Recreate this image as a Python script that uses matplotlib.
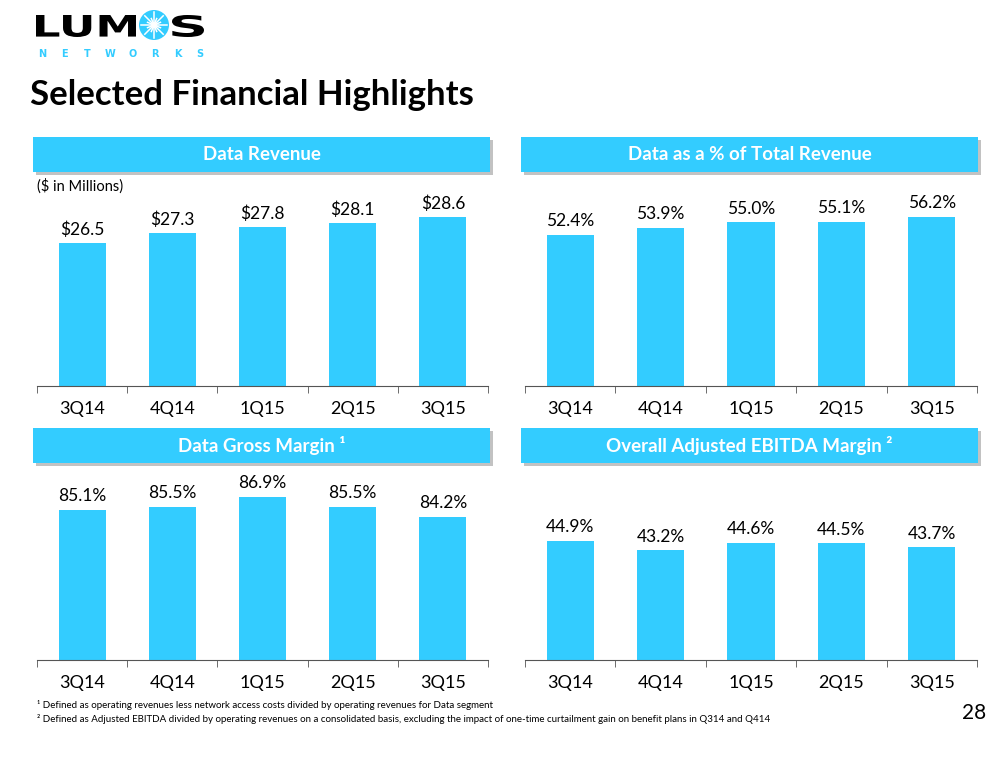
import matplotlib.pyplot as plt
import numpy as np
from matplotlib.patches import Rectangle, Circle, PathPatch
from matplotlib.textpath import TextPath
from matplotlib.font_manager import FontProperties
from matplotlib.transforms import Affine2D

plt.rcParams['font.family'] = ['Lato', 'DejaVu Sans']

quarters = ['3Q14', '4Q14', '1Q15', '2Q15', '3Q15']
data_revenue = [26.5, 27.3, 27.8, 28.1, 28.6]
data_pct_total = [52.4, 53.9, 55.0, 55.1, 56.2]
gross_margin = [85.1, 85.5, 86.9, 85.5, 84.2]
ebitda_margin = [44.9, 43.2, 44.6, 44.5, 43.7]

panel_titles = ['Data Revenue', 'Data as a % of Total Revenue',
                'Data Gross Margin \u00b9', 'Overall Adjusted EBITDA Margin \u00b2']

BLUE = '#33CCFF'
W, H = 1008, 768

fig = plt.figure(figsize=(W / 100, H / 100), dpi=100)

# overlay axes in pixel coordinates (top-left origin) for the slide decorations
bg = fig.add_axes([0, 0, 1, 1])
bg.set_xlim(0, W)
bg.set_ylim(H, 0)
bg.axis('off')


def header(x0, y0, x1, y1, text):
    bg.add_patch(Rectangle((x0 + 3, y0 + 3), x1 - x0, y1 - y0,
                           facecolor='#9a9a9a', edgecolor='none', alpha=0.6, zorder=1))
    bg.add_patch(Rectangle((x0, y0), x1 - x0, y1 - y0,
                           facecolor=BLUE, edgecolor='none', zorder=2))
    bg.text((x0 + x1) / 2, (y0 + y1) / 2, text, color='white', fontsize=13.5,
            fontweight='bold', ha='center', va='center', zorder=3)


def logo_text(s, x0, x1, y0, y1):
    tp = TextPath((0, 0), s, size=30, prop=FontProperties(family='DejaVu Sans', weight='heavy'))
    ext = tp.get_extents()
    tr = (Affine2D().translate(-ext.x0, -ext.y0)
          .scale((x1 - x0) / ext.width, -(y1 - y0) / ext.height)
          .translate(x0, y1))
    bg.add_patch(PathPatch(tr.transform_path(tp), facecolor='black', edgecolor='none'))


def panel(rect, values, ylim, fmt):
    x0, y0, x1, y1 = rect
    ax = fig.add_axes([x0 / W, 1 - y1 / H, (x1 - x0) / W, (y1 - y0) / H])
    pos = np.arange(len(quarters))
    bars = ax.bar(pos, values, width=0.52, color=BLUE)
    ax.set_xlim(-0.5, len(quarters) - 0.5)
    ax.set_ylim(*ylim)
    for b, v in zip(bars, values):
        ax.annotate(fmt.format(v), (b.get_x() + b.get_width() / 2, v),
                    xytext=(0, 4), textcoords='offset points',
                    ha='center', va='bottom', fontsize=12.5)
    for s in ['top', 'right', 'left']:
        ax.spines[s].set_visible(False)
    ax.spines['bottom'].set_color('#555555')
    ax.set_yticks([])
    ax.set_xticks(pos)
    ax.set_xticklabels(quarters, fontsize=13)
    ax.tick_params(axis='x', which='major', length=0, pad=11)
    ax.set_xticks(np.arange(-0.5, len(quarters)), minor=True)
    ax.tick_params(axis='x', which='minor', length=5, color='#555555')
    ax.patch.set_alpha(0)
    return ax


header(33, 137, 490, 172, panel_titles[0])
header(521, 137, 978, 172, panel_titles[1])
header(33, 428, 490, 463, panel_titles[2])
header(521, 428, 978, 463, panel_titles[3])

panel((37, 195, 488, 386), data_revenue, (14.95, 30.4), '${:.1f}')
panel((525, 195, 977, 386), data_pct_total, (20.5, 60.8), '{:.1f}%')
panel((37, 470, 488, 660), gross_margin, (64.8, 90.5), '{:.1f}%')
panel((525, 470, 977, 660), ebitda_margin, (22.9, 58.0), '{:.1f}%')

# logo
logo_text('LUM', 36, 136, 15, 37)
logo_text('S', 172, 204, 15, 37)
bg.add_patch(Circle((154, 25), 15, facecolor=BLUE, edgecolor='none'))
for ang in np.arange(0, 180, 22.5):
    t = np.deg2rad(ang)
    ln = 13 if ang % 45 == 0 else 7
    bg.plot([154 - ln * np.cos(t), 154 + ln * np.cos(t)],
            [25 - ln * np.sin(t), 25 + ln * np.sin(t)], color='white', lw=1.1)
bg.add_patch(Circle((154, 25), 3, facecolor='white', edgecolor='none'))
for i, ch in enumerate('NETWORKS'):
    bg.text(42 + i * 22.6, 54, ch, fontsize=7, fontweight='bold', color=BLUE,
            family=['DejaVu Sans'], va='center', ha='center')

bg.text(30, 95, 'Selected Financial Highlights', fontsize=25, fontweight='bold',
        va='center', ha='left')
bg.text(37, 186, '($ in Millions)', fontsize=10.5, va='center', ha='left')

bg.text(37, 705, '\u00b9 Defined as operating revenues less network access costs divided by operating revenues for Data segment',
        fontsize=7, va='center', ha='left')
bg.text(37, 719, '\u00b2 Defined as Adjusted EBITDA divided by operating revenues on a consolidated basis, excluding the impact of one-time curtailment gain on benefit plans in Q314 and Q414',
        fontsize=7, va='center', ha='left')
bg.text(986, 713, '28', fontsize=15, va='center', ha='right')

fig.savefig('out.png', dpi=100)
